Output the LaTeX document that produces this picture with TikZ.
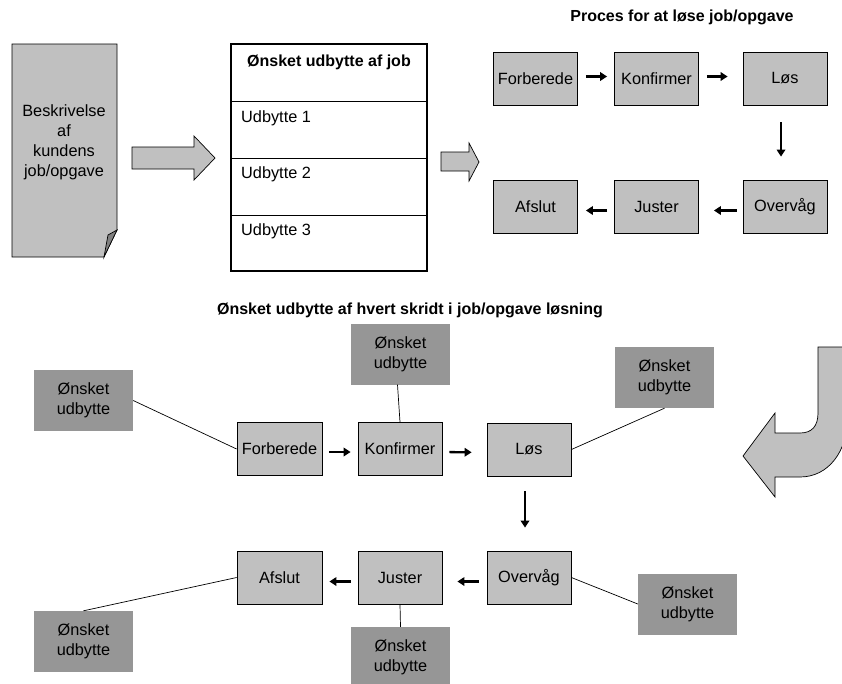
\documentclass[tikz,border=0pt]{standalone}
\usepackage{fontspec}
\setmainfont{Liberation Sans}
\usetikzlibrary{arrows.meta}
\definecolor{lgray}{HTML}{C0C0C0}
\definecolor{dgray}{HTML}{969696}
\definecolor{fgray}{HTML}{808080}
\begin{document}
\begin{tikzpicture}[x=1pt,y=-1pt,
  txt/.style={font=\fontsize{16.3}{20}\selectfont},
  proc/.style={draw=black, line width=0.8pt, fill=lgray, minimum width=84pt, minimum height=53pt, inner sep=0pt, txt},
  wish/.style={fill=dgray, minimum width=99pt, minimum height=61pt, inner sep=0pt, align=center, txt},
  arr/.style={line width=2.3pt, -{Triangle[length=7pt,width=8.5pt]}},
  conn/.style={line width=0.7pt},
  blk/.style={draw=black, line width=0.7pt, fill=lgray},
  ttl/.style={font=\fontsize{16}{20}\selectfont\bfseries, inner sep=0pt}
]
\useasboundingbox (0,0) rectangle (842,683);
\clip (0,0) rectangle (842,683);

% ---------- document shape ----------
\draw[blk] (12,44) -- (117,44) -- (117,230) -- (104,257) -- (12,257) -- cycle;
\draw[line width=0.7pt, fill=fgray] (104,257) -- (117,230) -- (108,235) -- cycle;
\node[txt, align=center, inner sep=0pt] (doc) at (64,142) {Beskrivelse\\af\\kundens\\job/opgave};

% ---------- block arrow 1 ----------
\draw[blk] (132,147) -- (194,147) -- (194,136) -- (215,158) -- (194,180) -- (194,169) -- (132,169) -- cycle;

% ---------- table ----------
\draw[line width=2.6pt, fill=white] (231,44) rectangle (427,271);
\draw[line width=0.8pt] (231,101) -- (427,101);
\draw[line width=0.8pt] (231,158) -- (427,158);
\draw[line width=0.8pt] (231,215) -- (427,215);
\node[ttl] (tabt) at (329,62) {Ønsket udbytte af job};
\node[txt, anchor=west, inner sep=0pt] (u1) at (241,118) {Udbytte 1};
\node[txt, anchor=west, inner sep=0pt] (u2) at (241,174) {Udbytte 2};
\node[txt, anchor=west, inner sep=0pt] (u3) at (241,231) {Udbytte 3};

% ---------- block arrow 2 ----------
\draw[blk] (441,152) -- (469,152) -- (469,143) -- (479,162) -- (469,181) -- (469,171) -- (441,171) -- cycle;

% ---------- top process ----------
\node[ttl] (ptitle) at (682,17) {Proces for at løse job/opgave};
\node[proc] (tf) at (535.5,78.5) {Forberede};
\node[proc] (tk) at (656.5,78.5) {Konfirmer};
\node[proc] (tl) at (785,78.5) {Løs};
\node[proc] (ta) at (535.5,206.5) {Afslut};
\node[proc] (tj) at (656.5,206.5) {Juster};
\node[proc] (to) at (785,206.5) {Overvåg};
\draw[arr, shorten <=8pt, shorten >=7pt] ([yshift=2pt]tf.east) -- ([yshift=2pt]tk.west);
\draw[arr, shorten <=8pt, shorten >=15pt] ([yshift=2pt]tk.east) -- ([yshift=2pt]tl.west);
\draw[arr, shorten <=17pt, shorten >=23pt] ([xshift=-4pt]tl.south) -- ([xshift=-4pt]to.north);
\draw[arr, shorten <=6pt, shorten >=15pt] ([yshift=-4pt]to.west) -- ([yshift=-4pt]tj.east);
\draw[arr, shorten <=7pt, shorten >=8pt] ([yshift=-4pt]tj.west) -- ([yshift=-4pt]ta.east);

% ---------- curved arrow ----------
\draw[blk] (818,347) -- (818,413) .. controls (818,426) and (812,433) .. (800,433)
  -- (775,433) -- (775,413) -- (743,456) -- (775,497) -- (775,477) -- (800,477)
  .. controls (828,477) and (848,452) .. (848,415) -- (848,347) -- cycle;

% ---------- bottom process ----------
\node[ttl] (btitle) at (410,310) {Ønsket udbytte af hvert skridt i job/opgave løsning};
\node[proc, minimum width=85pt] (bf) at (279.5,449) {Forberede};
\node[proc, minimum width=84pt] (bk) at (400,449) {Konfirmer};
\node[proc, minimum width=84pt] (bl) at (529,449.5) {Løs};
\node[proc, minimum width=85pt] (ba) at (279.5,577.5) {Afslut};
\node[proc, minimum width=84pt] (bj) at (400,577.5) {Juster};
\node[proc, minimum width=84pt] (bo) at (529,577.5) {Overvåg};

\node[wish] (w1) at (83.5,400.5) {Ønsket\\udbytte};
\node[wish] (w2) at (400.5,354) {Ønsket\\udbytte};
\node[wish] (w3) at (664.5,377.5) {Ønsket\\udbytte};
\node[wish] (w4) at (687.5,604) {Ønsket\\udbytte};
\node[wish] (w5) at (83.5,641.5) {Ønsket\\udbytte};
\node[wish] (w6) at (400.5,657.5) {Ønsket\\udbytte};

\draw[arr, shorten <=7pt, shorten >=7pt] ([yshift=-3pt]bf.east) -- ([yshift=-3pt]bk.west);
\draw[arr, shorten <=7pt, shorten >=15pt] ([yshift=-3pt]bk.east) -- ([yshift=-3pt]bl.west);
\draw[arr, shorten <=15pt, shorten >=23pt] ([xshift=-4pt]bl.south) -- ([xshift=-4pt]bo.north);
\draw[arr, shorten <=8pt, shorten >=15pt] ([yshift=-4pt]bo.west) -- ([yshift=-4pt]bj.east);
\draw[arr, shorten <=7pt, shorten >=7pt] ([yshift=-4pt]bj.west) -- ([yshift=-4pt]ba.east);

\draw[conn] (w1.east) -- (bf.west);
\draw[conn] ([xshift=-3pt]w2.south) -- (bk.north);
\draw[conn] (bl.east) -- (w3.south);
\draw[conn] (bo.east) -- (w4.west);
\draw[conn] (w5.north) -- (ba.west);
\draw[conn] (bj.south) -- (w6.north);
\end{tikzpicture}
\end{document}
